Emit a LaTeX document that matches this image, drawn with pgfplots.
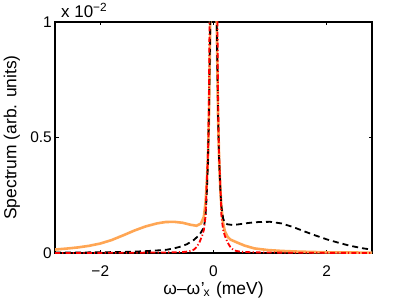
\documentclass[border=0pt]{standalone}
\usepackage{pgfplots}
\pgfplotsset{compat=1.18}
\usepackage{fontspec}
\setmainfont{Liberation Sans}
\definecolor{myorange}{rgb}{1,0.65,0.33}
\begin{document}
\begin{tikzpicture}
\begin{axis}[
  scale only axis, width=317bp, height=231bp,
  at={(0,0)}, anchor=south west,
  xmin=-2.8, xmax=2.8, ymin=0, ymax=1,
  xtick={-2,0,2}, xticklabels={−2,0,2},
  ytick={0,0.5,1}, yticklabels={0,0.5,1},
  tick align=inside, major tick length=3.5bp,
  every tick/.style={black, line width=0.8bp},
  axis line style={line width=1.3bp},
  ticklabel style={font=\fontsize{15.5}{18}\selectfont},
  xticklabel style={inner sep=0pt, anchor=north, yshift=-13bp},
  yticklabel style={inner sep=0pt, anchor=east, xshift=-3bp},
  every axis x label/.style={at={(axis description cs:0.5,0)}, anchor=base, yshift=-41bp, inner sep=0pt, font=\fontsize{17.5}{20}\selectfont},
  every axis y label/.style={at={(axis description cs:-0.11,0.5)}, rotate=90, anchor=south, inner sep=0pt, font=\fontsize{17.5}{20}\selectfont},
  xlabel={ω–ω\kern0.5pt'\kern-1pt\textsubscript{x}\kern1pt\ (meV)},
  ylabel={Spectrum (arb. units)},
]
\addplot[myorange, line width=2.6bp] coordinates {
(-2.8,0.015)(-2.6,0.019)(-2.4,0.024)(-2.2,0.031)(-2.0,0.041)(-1.8,0.056)(-1.6,0.076)(-1.4,0.097)(-1.2,0.115)(-1.0,0.128)(-0.85,0.134)(-0.7,0.135)(-0.55,0.131)(-0.4,0.122)(-0.3,0.118)(-0.22,0.128)(-0.17,0.157)(-0.14,0.22)(-0.12,0.30)(-0.1,0.40)(-0.08,0.6)(-0.06,0.95)(-0.04,1.5)(0,3)(0.04,1.5)(0.06,0.95)(0.08,0.6)(0.1,0.4)(0.12,0.28)(0.14,0.2)(0.17,0.13)(0.2,0.095)(0.25,0.07)(0.3,0.058)(0.42,0.045)(0.55,0.032)(0.72,0.02)(0.95,0.013)(1.2,0.009)(1.5,0.006)(2.0,0.003)(2.8,0.0015)
};
\addplot[black, line width=1.8bp, dash pattern=on 6bp off 4bp] coordinates {
(-2.8,0.0015)(-2.0,0.003)(-1.5,0.005)(-1.2,0.008)(-1.0,0.011)(-0.83,0.014)(-0.7,0.02)(-0.59,0.027)(-0.47,0.038)(-0.35,0.056)(-0.25,0.078)(-0.17,0.11)(-0.14,0.16)(-0.12,0.25)(-0.1,0.38)(-0.08,0.6)(-0.06,0.95)(-0.04,1.5)(0,3)(0.04,1.5)(0.06,0.95)(0.08,0.6)(0.1,0.4)(0.12,0.28)(0.14,0.2)(0.17,0.15)(0.2,0.13)(0.25,0.124)(0.35,0.121)(0.5,0.126)(0.65,0.131)(0.8,0.134)(1.0,0.135)(1.2,0.128)(1.4,0.113)(1.6,0.094)(1.8,0.076)(2.0,0.059)(2.2,0.045)(2.4,0.032)(2.6,0.022)(2.8,0.014)
};
\addplot[red, line width=1.8bp, dash pattern=on 5bp off 2.2bp on 1.2bp off 2.2bp] coordinates {
(-2.8,0.0003)(-2.0,0.0006)(-1.5,0.001)(-1.0,0.002)(-0.7,0.003)(-0.5,0.005)(-0.4,0.009)(-0.35,0.014)(-0.3,0.025)(-0.25,0.045)(-0.2,0.075)(-0.17,0.1)(-0.14,0.16)(-0.12,0.3)(-0.1,0.42)(-0.09,0.5)(-0.08,0.7)(-0.07,1.0)(-0.05,1.5)(0,3)(0.05,1.5)(0.07,1.0)(0.08,0.7)(0.09,0.5)(0.1,0.42)(0.12,0.3)(0.14,0.16)(0.17,0.1)(0.2,0.075)(0.25,0.045)(0.3,0.025)(0.35,0.014)(0.4,0.009)(0.5,0.005)(0.7,0.003)(1.0,0.002)(1.5,0.001)(2.0,0.0006)(2.8,0.0003)
};
\end{axis}
\node[anchor=base west, inner sep=0pt, font=\fontsize{17}{20}\selectfont] at (6bp,235bp) {x 10\textsuperscript{−2}};
\pgfresetboundingbox
\path[use as bounding box] (-55bp,-55bp) rectangle (356bp,253bp);
\end{tikzpicture}
\end{document}
